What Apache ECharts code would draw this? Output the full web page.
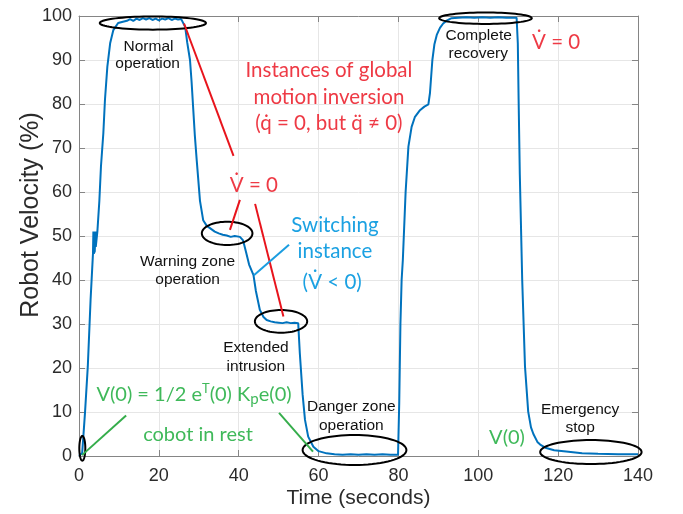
<!DOCTYPE html>
<html><head><meta charset="utf-8">
<script src="https://cdn.jsdelivr.net/npm/echarts@6/dist/echarts.min.js"></script>
<style>html,body{margin:0;padding:0;background:#fff}#c{width:683px;height:514px}</style>
</head><body><div id="c"></div>
<script>
// ---- data ----
const timeSec = [0,0.5,0.8,1.5,2.2,2.9,3.5,3.6,3.7,3.95,4.1,4.2,4.6,5.1,5.5,6.1,6.5,7.1,7.8,8.6,9.8,11,12,12.8,13.6,14.4,15.2,16,16.8,17.6,18.4,19.2,20,20.8,21.6,22.4,23.2,24,24.8,25.6,26.1,26.6,27.1,27.8,28.2,28.6,29.0,29.5,30.3,31.1,32.0,32.8,34,35,36,37,38,39,40.3,41.1,41.8,42.6,43.7,44.3,45.3,46.2,47,48,49,50,51,52,53,54,54.9,55.3,56,56.6,57.4,58.7,60,62,64,66,68,70,72,74,76,78,79.9,80.2,80.5,80.8,81.1,81.8,82.5,83.3,84.1,85.4,86.5,87.5,87.9,88.5,89,89.6,90.4,91.2,92.2,93.3,95,97,99,101,103,105,107,109.6,109.9,110.1,110.4,111,111.7,112.5,113.2,113.8,114.8,115.5,117,119,122,126,130,135,140];
const velocity = [0,0,0.7,9.8,20.3,35.5,46,51,46,46.5,51,47.5,51,58,65.8,73.4,80.9,88.5,93.8,96.8,98.4,98.7,98.9,99.3,98.9,99.4,99.1,99.5,99.2,99.5,99.1,99.4,99.0,99.4,99.2,99.5,99.1,99.4,99.2,99.3,99.0,97.5,94,90,85,79,73,67,58,53.6,52.3,51.8,51,50.6,50.3,50.1,49.8,50.0,49.8,49,46.5,43.5,41.1,37.5,33.2,31.6,30.9,30.6,30.4,30.3,30.2,30.4,30.2,30.3,30.2,23.4,14,8.2,4.4,2.1,1.1,0.6,0.4,0.3,0.4,0.3,0.4,0.3,0.4,0.3,0.3,12,30,40,44.5,60,70.3,74.8,77,78.6,79.4,79.9,82.5,90,93.5,95.7,97.3,98.3,99,99.5,99.6,99.7,99.6,99.7,99.6,99.7,99.6,99.6,93.8,81,64,40,20.3,10.1,6.5,5.0,3.2,2.6,1.8,1.3,1.0,0.6,0.5,0.4,0.4];
const xTicks = [0,20,40,60,80,100,120,140];
const yTicks = [0,10,20,30,40,50,60,70,80,90,100];

// annotation anchors in data units: [t, v, rx, ry]
const ellipses = [[18.5,98.4,13.3,1.5],[37.1,50.6,6.34,2.65],[50.6,30.6,6.55,2.58],[0.83,1.75,0.75,2.8],[69.0,1.36,13.0,3.4],[101.8,99.5,11.6,1.3],[128.2,0.9,12.7,2.73]];
const redLines = [[26.3,98.3,38.7,68.2],[40.3,58.2,37.8,51.4],[44.1,57.3,51.2,31.7]];
const blueLines = [[52.6,48,43.8,41.1]];
const greenLines = [[11.8,9.2,0.75,0.2],[50.1,9.8,58.6,1.0]];
const blackLabels = [["Normal",17.4,93.0],["operation",17.2,89.1],["Warning zone",27.2,44.1],["operation",27.2,40.0],["Extended",44.3,24.5],["intrusion",44.3,20.2],["Danger zone",68.2,11.1],["operation",68.2,6.8],["Complete",100.1,95.5],["recovery",100.0,91.4],["Emergency",125.5,10.5],["stop",125.5,6.4]];
const redLabels = [["Instances of global",62.6,87.7],["motion inversion",62.6,81.6],["(q\u0307 = 0, but q\u0308 \u2260 0)",62.6,75.7],["V\u0307 = 0",43.8,61.6],["V\u0307 = 0",119.5,94.1]];
const blueLabels = [["Switching",64.1,52.3],["instance",64.1,46.4],["(V\u0307 < 0)",63.4,39.5]];
const greenLabels = [["V(0) = 1/2 e{sup|T}(0) K{sub|p}e(0)",28.8,14.0],["cobot in rest",29.8,4.8],["V(0)",107.2,4.3]];

const chart = echarts.init(document.getElementById('c'), null, {renderer:'canvas'});
const axisColor = '#858585';
const grid = {left:79, right:45, top:16, bottom:58, containLabel:false, outerBoundsMode:'none'};
chart.setOption({
  animation:false,
  backgroundColor:'#fff',
  grid: grid,
  xAxis:[{
    type:'value', min:0, max:140, interval:20,
    axisLine:{show:true, onZero:false, lineStyle:{color:axisColor, width:1}},
    axisTick:{show:true, inside:true, length:6, lineStyle:{color:axisColor}},
    axisLabel:{color:'#2b2b2b', fontFamily:'Liberation Sans', fontSize:18, margin:11,
      formatter:v=> xTicks.includes(v) ? String(v) : ''},
    splitLine:{show:true, lineStyle:{color:'#e6e6e6', width:1}},
    name:'Time (seconds)', nameLocation:'middle', nameGap:32, nameMoveOverlap:false,
    nameTextStyle:{color:'#2b2b2b', fontFamily:'Liberation Sans', fontSize:21}
  },{
    type:'value', position:'top', min:0, max:140, interval:20,
    axisLine:{show:true, onZero:false, lineStyle:{color:axisColor, width:1}},
    axisTick:{show:true, inside:true, length:6, lineStyle:{color:axisColor}},
    axisLabel:{show:false}, splitLine:{show:false}
  }],
  yAxis:[{
    type:'value', min:0, max:100, interval:10,
    axisLine:{show:true, onZero:false, lineStyle:{color:axisColor, width:1}},
    axisTick:{show:true, inside:true, length:6, lineStyle:{color:axisColor}},
    axisLabel:{color:'#2b2b2b', fontFamily:'Liberation Sans', fontSize:18, margin:7,
      formatter:v=> yTicks.includes(v) ? String(v) : ''},
    splitLine:{show:true, lineStyle:{color:'#e6e6e6', width:1}},
    name:'Robot Velocity (%)', nameLocation:'middle', nameGap:35, nameMoveOverlap:false,
    nameTextStyle:{color:'#2b2b2b', fontFamily:'Liberation Sans', fontSize:25, padding:[0,0,0,42]}
  },{
    type:'value', position:'right', min:0, max:100, interval:10,
    axisLine:{show:true, onZero:false, lineStyle:{color:axisColor, width:1}},
    axisTick:{show:true, inside:true, length:6, lineStyle:{color:axisColor}},
    axisLabel:{show:false}, splitLine:{show:false}
  }],
  series:[{
    type:'line', xAxisIndex:0, yAxisIndex:0, showSymbol:false, symbol:'none',
    data: timeSec.map((t,i)=>[t, velocity[i]]),
    lineStyle:{color:'#0072BD', width:2}, z:3
  }]
});

function P(t,v){ return chart.convertToPixel({xAxisIndex:0, yAxisIndex:0},[t,v]); }
const els = [];
ellipses.forEach(e=>{
  const c = P(e[0],e[1]); const r1 = P(e[0]+e[2], e[1]); const r2 = P(e[0], e[1]+e[3]);
  const rx = Math.abs(r1[0]-c[0]), ry = Math.abs(r2[1]-c[1]);
  const pts = [];
  for(let k=0;k<72;k++){ const a = k/72*Math.PI*2; pts.push([c[0]+rx*Math.cos(a), c[1]+ry*Math.sin(a)]); }
  els.push({type:'polygon', shape:{points:pts}, style:{fill:'none', stroke:'#000', lineWidth:2}, z:10});
});
function addLines(arr, color){
  arr.forEach(l=>{ const a=P(l[0],l[1]), b=P(l[2],l[3]);
    els.push({type:'line', shape:{x1:a[0],y1:a[1],x2:b[0],y2:b[1]}, style:{stroke:color, lineWidth:2}, z:10}); });
}
addLines(redLines,'#e8141c');
addLines(blueLines,'#1b9de0');
addLines(greenLines,'#35ad4b');
function addText(arr, color, font, rich, lh){
  arr.forEach(s=>{ const p=P(s[1],s[2]);
    const st = {text:s[0], x:p[0], y:p[1], font:font, fill:color, align:'center', verticalAlign:'middle', textAlign:'center', textVerticalAlign:'middle'};
    if(rich) st.rich = rich;
    if(lh) st.lineHeight = lh;
    els.push({type:'text', style:st, z:11}); });
}
addText(blackLabels,'#111','15.5px "Liberation Sans"');
addText(redLabels,'#ee3a45','20.5px Lato');
addText(blueLabels,'#1ba1e2','20.5px Lato');
addText(greenLabels,'#3fb95a','20px Lato', {
  sup:{font:'13px Lato', fill:'#3fb95a', verticalAlign:'top', lineHeight:12},
  sub:{font:'15px Lato', fill:'#3fb95a', verticalAlign:'bottom', lineHeight:12}
}, 24);
chart.setOption({graphic:{elements:els}});
</script>
</body></html>
